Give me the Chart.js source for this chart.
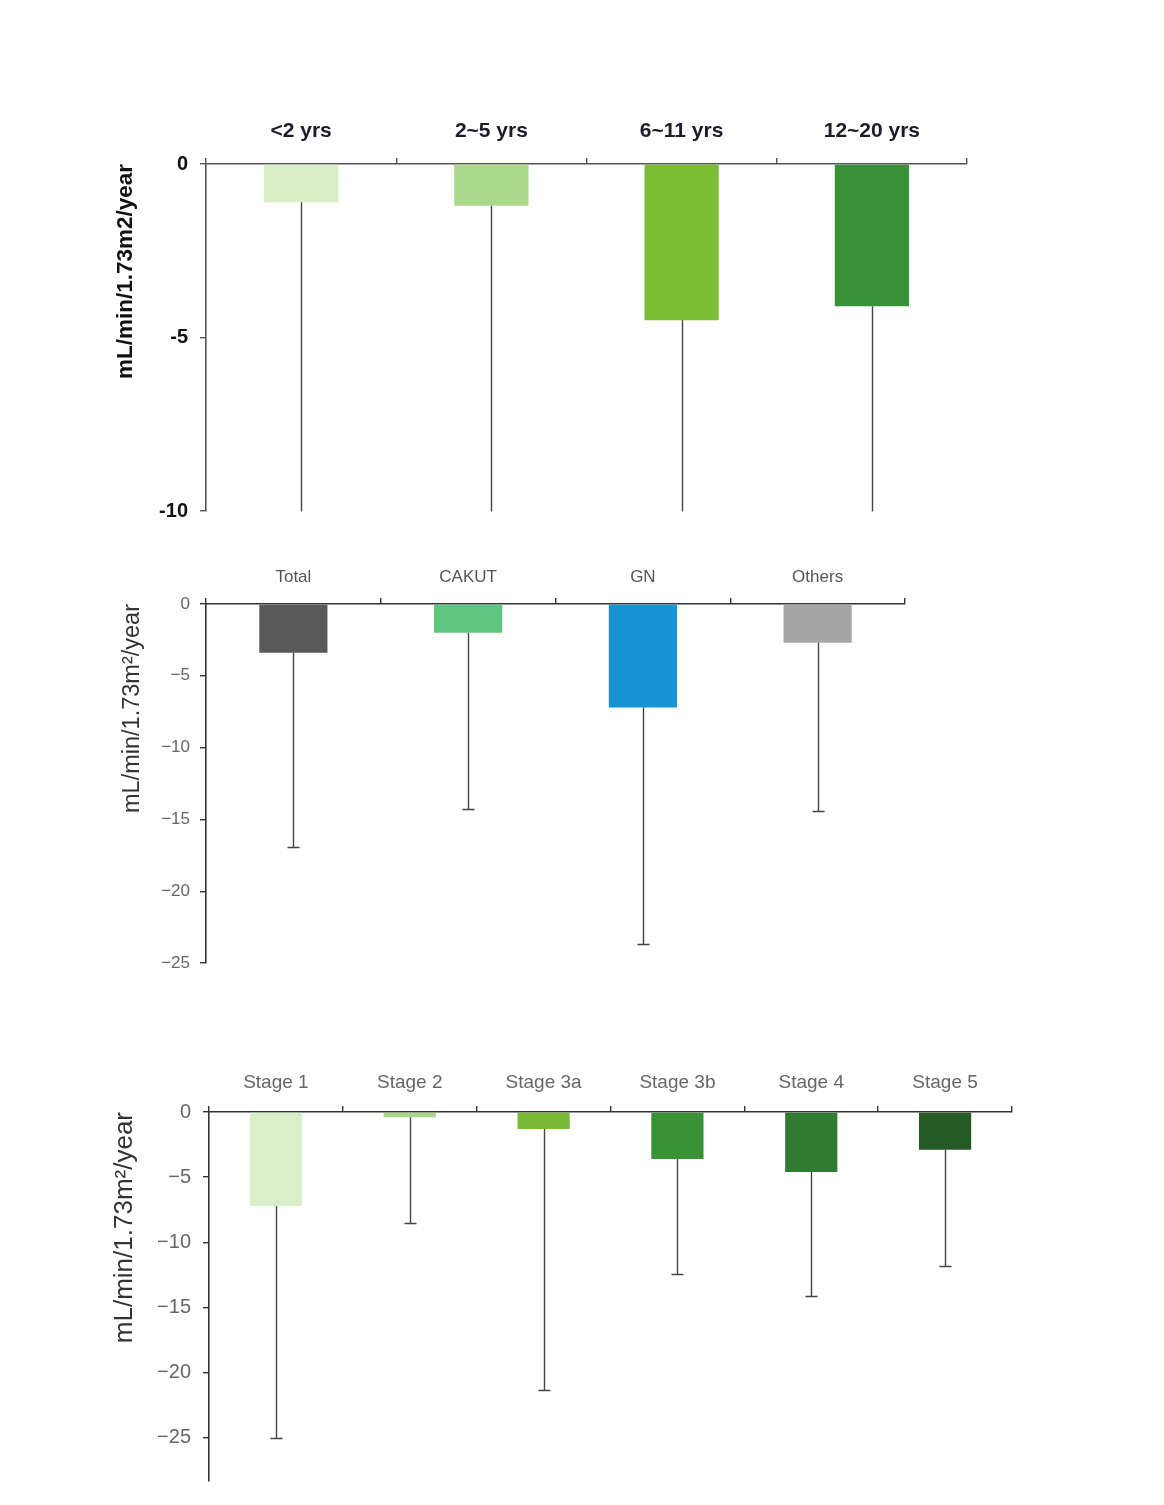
<!DOCTYPE html>
<html>
<head>
<meta charset="utf-8">
<script src="https://cdn.jsdelivr.net/npm/chart.js@4.4.1/dist/chart.umd.min.js"></script>
<style>
  body { margin: 0; background: #fff; }
  canvas { position: absolute; left: 0; }
</style>
</head>
<body>
<canvas id="age-chart" width="1164" height="455" style="top:80px"></canvas>
<canvas id="cause-chart" width="1164" height="450" style="top:540px"></canvas>
<canvas id="stage-chart" width="1164" height="465" style="top:1040px"></canvas>
<script>
// panel 1: age groups
var ageLabels = ['<2 yrs', '2~5 yrs', '6~11 yrs', '12~20 yrs'];
var ageMean = [-1.1, -1.2, -4.5, -4.1];
var ageLow = [-10, -10, -10, -10]; // whiskers run off the bottom of the axis
var ageColors = ['#d9eec8', '#a8d88a', '#7bbd35', '#3b9139'];
var ageTicks = [0, -5, -10];

// panel 2: cause
var causeLabels = ['Total', 'CAKUT', 'GN', 'Others'];
var causeMean = [-3.4, -2.0, -7.2, -2.7];
var causeLow = [-16.9, -14.3, -23.7, -14.4];
var causeColors = ['#595959', '#5fc67f', '#1695d3', '#a6a6a6'];
var causeTicks = [0, -5, -10, -15, -20, -25];

// panel 3: CKD stage
var stageLabels = ['Stage 1', 'Stage 2', 'Stage 3a', 'Stage 3b', 'Stage 4', 'Stage 5'];
var stageMean = [-7.2, -0.4, -1.3, -3.6, -4.6, -2.9];
var stageLow = [-25.0, -8.5, -21.3, -12.4, -14.1, -11.8];
var stageColors = ['#daeec9', '#a9d68a', '#7ab935', '#3a9236', '#2f7b30', '#245a26'];
var stageTicks = [0, -5, -10, -15, -20, -25];

// draws the SD whisker from the bar end down to the lower value
var errorBars = {
  id: 'errorBars',
  afterDatasetsDraw: function (chart, args, opts) {
    var ctx = chart.ctx, area = chart.chartArea, yScale = chart.scales.y;
    var meta = chart.getDatasetMeta(0);
    ctx.save();
    ctx.beginPath();
    ctx.rect(area.left, area.top, area.right - area.left, area.bottom - area.top + 1);
    ctx.clip();
    ctx.strokeStyle = opts.color;
    ctx.lineWidth = opts.width;
    meta.data.forEach(function (bar, i) {
      var x = Math.round(bar.x) + 0.5;
      var yEnd = Math.round(yScale.getPixelForValue(opts.values[i])) + 0.5;
      ctx.beginPath();
      ctx.moveTo(x, bar.y);
      ctx.lineTo(x, yEnd);
      if (opts.cap) {
        ctx.moveTo(x - opts.cap, yEnd);
        ctx.lineTo(x + opts.cap, yEnd);
      }
      ctx.stroke();
    });
    ctx.restore();
  }
};

function minusSign(v) {
  return v < 0 ? '\u2212' + Math.abs(v) : String(v);
}

function barPanel(id, labels, means, lows, colors, ticks, c) {
  var ctx = document.getElementById(id).getContext('2d');
  return new Chart(ctx, {
    type: 'bar',
    data: {
      labels: labels,
      datasets: [{
        data: means,
        backgroundColor: colors,
        borderWidth: 0,
        barPercentage: 0.39,
        categoryPercentage: 1
      }]
    },
    options: {
      responsive: false,
      animation: false,
      layout: { autoPadding: false, padding: { left: c.left, right: c.right, top: 0, bottom: c.bottom } },
      plugins: {
        legend: { display: false },
        tooltip: { enabled: false },
        errorBars: { values: lows, color: c.errColor, width: 1.4, cap: c.cap }
      },
      scales: {
        x: {
          position: 'top',
          offset: true,
          grid: { offset: true, drawOnChartArea: false, drawTicks: true, tickLength: 6, color: c.axisColor, lineWidth: 1.4 },
          border: { display: true, color: c.axisColor, width: 1.6 },
          ticks: { autoSkip: false, maxRotation: 0, padding: c.xPad, color: c.labelColor, font: c.labelFont },
          afterFit: function (s) { s.height = c.top; }
        },
        y: {
          min: c.min,
          max: 0,
          grid: { drawOnChartArea: false, drawTicks: true, tickLength: 6, color: c.axisColor, lineWidth: 1.4 },
          border: { display: true, color: c.axisColor, width: 1.6 },
          afterBuildTicks: function (s) {
            s.ticks = ticks.map(function (v) { return { value: v }; });
          },
          ticks: {
            padding: c.yPad,
            color: c.tickColor,
            font: c.tickFont,
            callback: c.minus ? minusSign : function (v) { return String(v); }
          },
          title: {
            display: true,
            text: c.title,
            align: 'end',
            padding: 0,
            color: c.titleColor,
            font: c.titleFont
          },
          afterFit: function (s) { s.width = c.yWidth; }
        }
      }
    },
    plugins: [errorBars]
  });
}

barPanel('age-chart', ageLabels, ageMean, ageLow, ageColors, ageTicks, {
  left: 112, yWidth: 94, right: 197, top: 84, bottom: 20, min: -10,
  title: 'mL/min/1.73m2/year',
  axisColor: '#555', errColor: '#444', cap: 0, xPad: 14, yPad: 12, minus: false,
  labelColor: '#1c1c2a', labelFont: { family: 'Liberation Sans, Arial, sans-serif', size: 21, weight: 'bold' },
  tickColor: '#111', tickFont: { family: 'Liberation Sans, Arial, sans-serif', size: 20, weight: 'bold' },
  titleColor: '#111', titleFont: { family: 'Liberation Sans, Arial, sans-serif', size: 22.5, weight: 'bold', lineHeight: 1.2 }
});

barPanel('cause-chart', causeLabels, causeMean, causeLow, causeColors, causeTicks, {
  left: 118, yWidth: 88, right: 259, top: 64, bottom: 27, min: -25,
  title: 'mL/min/1.73m\u00b2/year',
  axisColor: '#333', errColor: '#444', cap: 6, xPad: 10, yPad: 10, minus: true,
  labelColor: '#555', labelFont: { family: 'Liberation Sans, Arial, sans-serif', size: 17 },
  tickColor: '#666', tickFont: { family: 'Liberation Sans, Arial, sans-serif', size: 17 },
  titleColor: '#333', titleFont: { family: 'Liberation Sans, Arial, sans-serif', size: 23.5, lineHeight: 1.2 }
});

barPanel('stage-chart', stageLabels, stageMean, stageLow, stageColors, stageTicks, {
  left: 109, yWidth: 100, right: 152, top: 72, bottom: 20, min: -28.3,
  title: 'mL/min/1.73m\u00b2/year',
  axisColor: '#333', errColor: '#444', cap: 6, xPad: 12, yPad: 12, minus: true,
  labelColor: '#666', labelFont: { family: 'Liberation Sans, Arial, sans-serif', size: 19 },
  tickColor: '#666', tickFont: { family: 'Liberation Sans, Arial, sans-serif', size: 20 },
  titleColor: '#333', titleFont: { family: 'Liberation Sans, Arial, sans-serif', size: 26, lineHeight: 1.2 }
});
</script>
</body>
</html>
